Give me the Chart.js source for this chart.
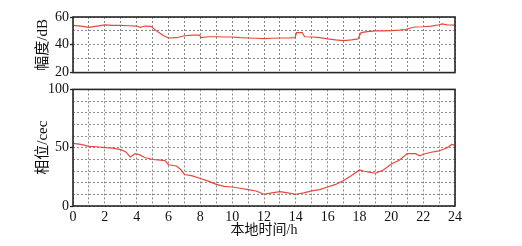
<!DOCTYPE html>
<html>
<head>
<meta charset="utf-8">
<script src="https://cdn.jsdelivr.net/npm/chart.js@4"></script>
<style>
  body { margin: 0; background: #fff; }
  #wrap { position: relative; width: 522px; height: 246px; }
  canvas { position: absolute; left: 0; }
  #ampCanvas { top: 0; }
  #phaseCanvas { top: 80px; }
</style>
</head>
<body>
<div id="wrap">
  <canvas id="ampCanvas" width="522" height="82"></canvas>
  <canvas id="phaseCanvas" width="522" height="166"></canvas>
</div>
<script>
// amplitude (dB) vs local time
var ampHours = [0, 0.5, 1, 1.5, 2, 2.5, 3, 3.5, 4, 4.2, 4.5, 4.9, 5.3, 5.7, 6, 6.5, 7, 7.5, 7.95, 8.05, 8.5, 9, 9.5, 10, 10.5, 11, 11.5, 12, 12.5, 13, 13.5, 13.95, 14.05, 14.4, 14.55, 15, 15.5, 16, 16.5, 17, 17.5, 17.9, 18.1, 18.5, 19, 19.5, 20, 20.5, 20.9, 21.2, 21.5, 22, 22.5, 23, 23.2, 23.5, 24];
var ampValues = [54.0, 53.5, 52.6, 53.5, 54.4, 54.0, 54.0, 53.7, 53.5, 52.6, 53.5, 53.3, 49.5, 46.5, 44.9, 45.1, 46.5, 47.0, 47.0, 45.1, 45.8, 45.8, 45.6, 45.6, 45.1, 44.9, 44.7, 44.4, 44.7, 44.9, 44.9, 45.1, 48.8, 48.8, 45.8, 45.6, 45.1, 44.2, 43.5, 43.0, 43.5, 44.2, 48.8, 49.5, 50.0, 50.0, 50.2, 50.5, 50.9, 52.1, 52.8, 53.0, 53.5, 54.4, 55.1, 54.4, 54.2];

// phase (cec) vs local time
var phaseHours = [0, 0.5, 1, 1.5, 2, 2.5, 3, 3.3, 3.6, 3.9, 4.2, 4.5, 5, 5.5, 5.8, 6, 6.5, 6.8, 7, 7.5, 8, 8.5, 9, 9.5, 10, 10.5, 11, 11.5, 12, 12.5, 13, 13.5, 14, 14.5, 15, 15.5, 16, 16.5, 17, 17.5, 18, 18.3, 18.6, 19, 19.5, 20, 20.5, 21, 21.5, 21.8, 22, 22.5, 23, 23.5, 23.8, 24];
var phaseValues = [53.7, 52.8, 51.1, 50.8, 50.0, 49.7, 48.3, 46.6, 42.1, 44.9, 43.8, 41.6, 39.9, 39.3, 38.8, 35.4, 34.3, 30.9, 27.0, 25.8, 23.6, 21.3, 18.5, 16.9, 16.3, 15.2, 14.0, 12.9, 10.1, 11.2, 12.4, 11.2, 10.1, 11.2, 12.9, 14.0, 16.3, 18.5, 21.9, 26.1, 30.9, 29.8, 29.0, 28.1, 30.9, 36.0, 39.3, 44.9, 44.9, 43.0, 44.4, 46.1, 47.2, 50.0, 52.8, 52.2];

var ampTickLabels = [20, 40, 60];
var phaseTickLabels = [0, 50, 100];
var hourTickLabels = [0, 2, 4, 6, 8, 10, 12, 14, 16, 18, 20, 22, 24];

var FONT = "'Liberation Serif', 'Noto Sans CJK SC', serif";
var LINE_COLOR = "#e8473e";

function toPoints(xs, ys) {
    var pts = [];
    for (var i = 0; i < xs.length; i++) pts.push({ x: xs[i], y: ys[i] });
    return pts;
}

// box around the plot area
var framePlugin = {
    id: "frame",
    afterDraw: function (chart) {
        var a = chart.chartArea, ctx = chart.ctx;
        ctx.save();
        ctx.strokeStyle = "#262626";
        ctx.lineWidth = 1.6;
        ctx.strokeRect(a.left, a.top, a.right - a.left, a.bottom - a.top);
        ctx.restore();
    }
};

function buildPanel(canvasId, xs, ys, yMin, yMax, yLabels, yTitle, showX, padding) {
    var ctx = document.getElementById(canvasId).getContext("2d");
    return new Chart(ctx, {
        type: "line",
        data: {
            datasets: [{
                data: toPoints(xs, ys),
                borderColor: LINE_COLOR,
                borderWidth: 1.2,
                pointRadius: 0,
                tension: 0
            }]
        },
        plugins: [framePlugin],
        options: {
            responsive: false,
            animation: false,
            layout: { padding: padding },
            plugins: { legend: { display: false }, tooltip: { enabled: false } },
            scales: {
                x: {
                    type: "linear",
                    min: 0,
                    max: 24,
                    grid: { color: "#8a8a8a", lineWidth: 1, drawTicks: false },
                    border: { display: false, dash: [2, 2] },
                    ticks: {
                        display: showX,
                        stepSize: 1,
                        autoSkip: false,
                        maxRotation: 0,
                        padding: 3,
                        color: "#111",
                        font: { family: FONT, size: 14 },
                        callback: function (v) { return hourTickLabels.indexOf(v) >= 0 ? String(v) : ""; }
                    },
                    title: {
                        display: showX,
                        text: "本地时间/h",
                        color: "#111",
                        font: { family: FONT, size: 14 },
                        padding: { top: 0, bottom: 7 }
                    },
                    afterFit: function (scale) { scale.height = showX ? 40 : 0; }
                },
                y: {
                    min: yMin,
                    max: yMax,
                    grid: {
                        color: "#8a8a8a",
                        lineWidth: 1,
                        drawTicks: true,
                        tickLength: 3,
                        tickBorderDash: [],
                        tickWidth: 1.3,
                        tickColor: function (c) {
                            return yLabels.indexOf(c.tick.value) >= 0 ? "#222" : "rgba(0,0,0,0)";
                        }
                    },
                    border: { display: false, dash: [2, 2] },
                    ticks: {
                        stepSize: 10,
                        autoSkip: false,
                        padding: 1,
                        color: "#111",
                        font: { family: FONT, size: 14 },
                        callback: function (v) { return yLabels.indexOf(v) >= 0 ? String(v) : ""; }
                    },
                    title: {
                        display: true,
                        text: yTitle,
                        color: "#111",
                        font: { family: FONT, size: 15 },
                        padding: { top: 34, bottom: 0 }
                    },
                    afterFit: function (scale) { scale.width = 73; }
                }
            }
        }
    });
}

var ampChart = buildPanel("ampCanvas", ampHours, ampValues, 20, 60, ampTickLabels,
    "幅度/dB", false, { left: 0, right: 67, top: 17, bottom: 7 });
var phaseChart = buildPanel("phaseCanvas", phaseHours, phaseValues, 0, 100, phaseTickLabels,
    "相位/cec", true, { left: 0, right: 67, top: 7, bottom: 0 });
</script>
</body>
</html>
